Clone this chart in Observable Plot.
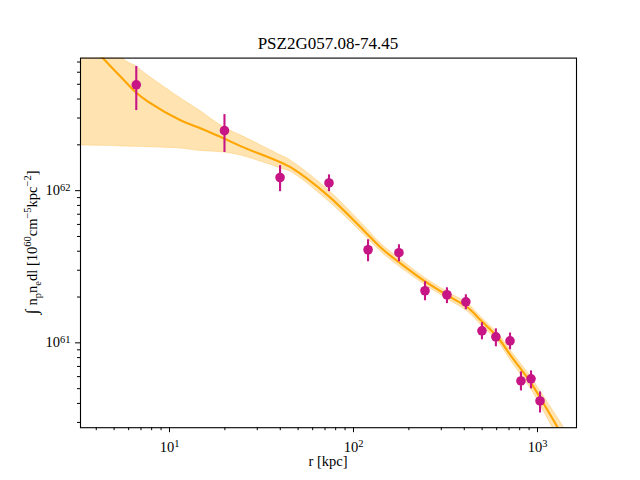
<!DOCTYPE html>
<html><head><meta charset="utf-8">
<script src="https://cdn.jsdelivr.net/npm/d3@7"></script>
<script src="https://cdn.jsdelivr.net/npm/@observablehq/plot@0.6"></script>
<style>body{margin:0;background:#fff} svg{display:block}</style>
</head><body><div id="chart"></div>
<script>
const titleText = "PSZ2G057.08-74.45";
const xLabel = "r [kpc]";

// observed points (r in kpc, integral in cm^-5 kpc^-2)
const pointR  = [6.60, 19.9, 39.9, 73.6, 120, 176.6, 244.7, 322, 408, 499, 594, 709, 813, 922, 1032];
const pointY  = [4.96e62, 2.48e62, 1.22e62, 1.124e62, 4.09e61, 3.91e61, 2.20e61, 2.07e61, 1.86e61, 1.20e61, 1.095e61, 1.03e61, 5.62e60, 5.80e60, 4.15e60];
const pointLo = [3.36e62, 1.78e62, 0.985e62, 0.985e62, 3.41e61, 3.41e61, 1.89e61, 1.81e61, 1.65e61, 1.047e61, 0.942e61, 0.90e61, 4.83e60, 4.98e60, 3.46e60];
const pointHi = [6.55e62, 3.16e62, 1.46e62, 1.27e62, 4.76e61, 4.41e61, 2.52e61, 2.30e61, 2.07e61, 1.355e61, 1.236e61, 1.16e61, 6.44e60, 6.54e60, 4.76e60];

// model curve and its uncertainty band
const modelR  = [3.30, 4.34, 5.66, 6.58, 7.64, 11.55, 14.29, 19.8, 24.5, 40.4, 45.7, 72.7, 114, 143, 181, 241.6, 326, 419, 493, 610, 717, 922, 1043, 1291, 1429];
const modelY  = [1.04e63, 7.43e62, 5.32e62, 4.42e62, 3.85e62, 2.89e62, 2.61e62, 2.20e62, 1.955e62, 1.53e62, 1.42e62, 9.27e61, 5.46e61, 4.15e61, 3.31e61, 2.56e61, 2.04e61, 1.70e61, 1.40e61, 1.08e61, 8.21e60, 5.46e60, 4.28e60, 2.76e60, 2.2e60];
const modelLo = [1.98e62, 1.97e62, 1.95e62, 1.94e62, 1.93e62, 1.89e62, 1.83e62, 1.78e62, 1.70e62, 1.40e62, 1.33e62, 8.59e61, 5.13e61, 3.91e61, 3.11e61, 2.43e61, 1.93e61, 1.60e61, 1.31e61, 1.02e61, 7.62e60, 4.98e60, 3.85e60, 2.37e60, 1.81e60];
const modelHi = [1.53e63, 1.13e63, 7.28e62, 6.55e62, 5.71e62, 4.03e62, 3.41e62, 2.60e62, 2.30e62, 1.70e62, 1.575e62, 1.015e62, 5.89e61, 4.41e61, 3.52e61, 2.70e61, 2.15e61, 1.81e61, 1.48e61, 1.15e61, 8.85e60, 5.97e60, 4.76e60, 3.21e60, 2.64e60];

// ticks
const xMajor = [10, 100, 1000];
const xMinor = [4,5,6,7,8,9,20,30,40,50,60,70,80,90,200,300,400,500,600,700,800,900];
const yMajor = [1e61, 1e62];
const yMinor = [3e60,4e60,5e60,6e60,7e60,8e60,9e60,2e61,3e61,4e61,5e61,6e61,7e61,8e61,9e61,2e62,3e62,4e62,5e62,6e62,7e62];

const points = pointR.map((r, i) => ({r, y: pointY[i], lo: pointLo[i], hi: pointHi[i]}));
const model = modelR.map((r, i) => ({r, y: modelY[i], lo: modelLo[i], hi: modelHi[i]}));

const W = 640, H = 480, mL = 80, mR = 64, mT = 57.6, mB = 52.8;
const font = "'Liberation Serif', 'DejaVu Serif', serif";
const expFmt = d => "10^" + Math.round(Math.log10(d));

const svg = Plot.plot({
  width: W, height: H,
  marginLeft: mL, marginRight: mR, marginTop: mT, marginBottom: mB,
  style: {fontFamily: font, fontSize: "14.5px", background: "white", color: "black"},
  x: {type: "log", domain: [3.284, 1629]},
  y: {type: "log", domain: [2.77e60, 7.43e62]},
  marks: [
    Plot.areaY(model, {x: "r", y1: "lo", y2: "hi", fill: "orange", fillOpacity: 0.3, stroke: "orange", strokeOpacity: 0.25, strokeWidth: 1, curve: "catmull-rom", clip: true}),
    Plot.lineY(model, {x: "r", y: "y", stroke: "orange", strokeWidth: 2.1, curve: "catmull-rom", clip: true}),
    Plot.ruleX(points, {x: "r", y1: "lo", y2: "hi", stroke: "#c71585", strokeWidth: 2.1}),
    Plot.dot(points, {x: "r", y: "y", fill: "#c71585", r: 4.8}),
    Plot.frame({stroke: "black", strokeWidth: 1.1}),
    Plot.axisX({ticks: xMajor, tickSize: 5, tickPadding: 9, tickFormat: expFmt, label: null, fontSize: 14.5}),
    Plot.axisX({ticks: xMinor, tickSize: 3, tickFormat: () => "", label: null}),
    Plot.axisY({ticks: yMajor, tickSize: 5, tickPadding: 5, tickFormat: expFmt, label: null, fontSize: 14.5}),
    Plot.axisY({ticks: yMinor, tickSize: 3, tickFormat: () => "", label: null})
  ]
});

const s = d3.select(svg);
// superscript exponents in tick labels
s.selectAll("text").each(function () {
  const m = /^10\^(-?\d+)$/.exec(this.textContent);
  if (!m) return;
  const el = d3.select(this);
  el.text("");
  el.append("tspan").text("10");
  el.append("tspan").attr("dy", "-0.45em").attr("font-size", "0.72em").text(m[1]);
});

// title
s.append("text")
  .attr("x", (mL + W - mR) / 2).attr("y", 49)
  .attr("text-anchor", "middle").attr("font-family", font).attr("font-size", 17)
  .attr("fill", "black").text(titleText);

// x label
s.append("text")
  .attr("x", (mL + W - mR) / 2).attr("y", 466)
  .attr("text-anchor", "middle").attr("font-family", font).attr("font-size", 14.5)
  .attr("fill", "black").text(xLabel);

// y label with sub/superscripts
const yParts = [
  ["∫ ", 0], ["n", 0], ["p", 1], ["n", 0], ["e", 1], ["dl [10", 0], ["60", -1],
  ["cm", 0], ["−5", -1], ["kpc", 0], ["−2", -1], ["]", 0]
];
const yl = s.append("text")
  .attr("transform", `translate(37, ${(mT + H - mB) / 2}) rotate(-90)`)
  .attr("text-anchor", "middle").attr("font-family", font).attr("font-size", 14.5)
  .attr("fill", "black");
let cur = 0;
yParts.forEach(([t, k]) => {
  const target = k === 1 ? 3.5 : k === -1 ? -6 : 0;
  const ts = yl.append("tspan").attr("dy", target - cur).text(t);
  if (k !== 0) ts.attr("font-size", 10.5);
  if (t === "∫ ") ts.attr("font-size", 17);
  cur = target;
});

document.getElementById("chart").appendChild(svg);
</script></body></html>
